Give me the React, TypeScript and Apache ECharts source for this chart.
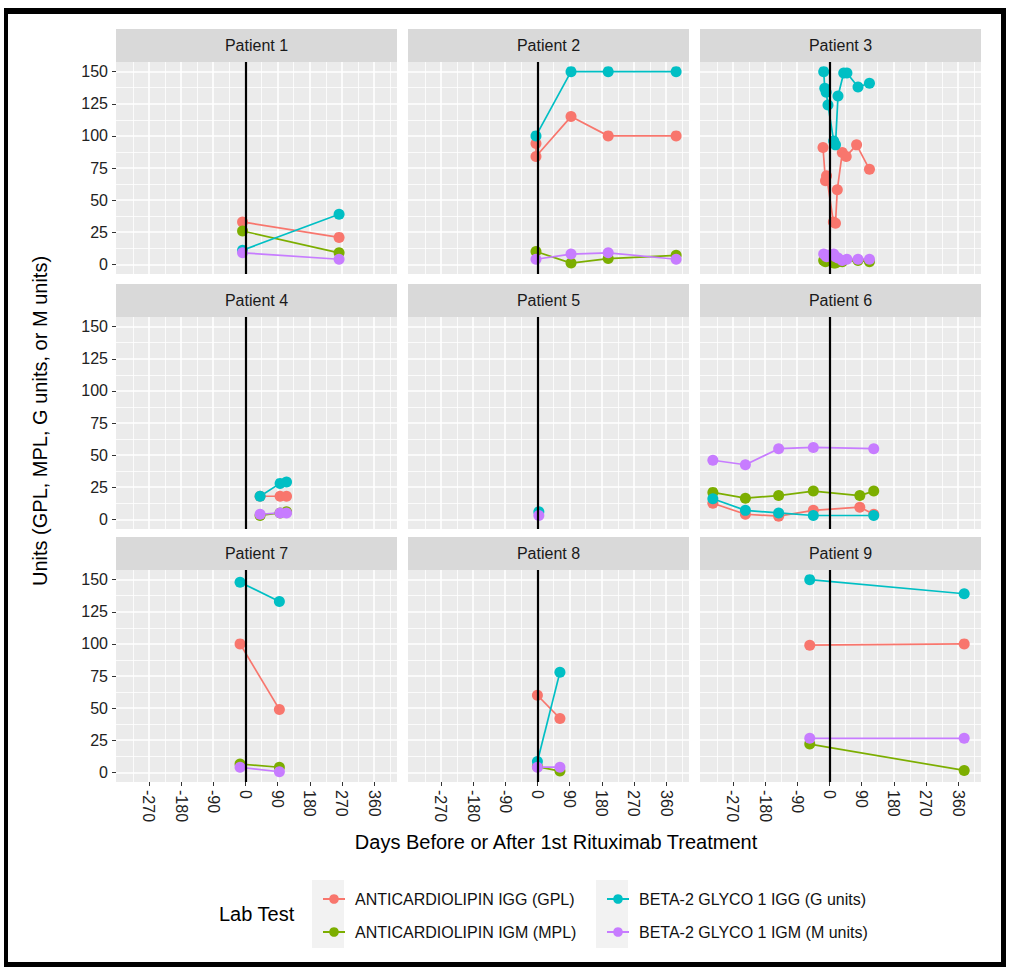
import React, { useEffect, useRef } from 'react';
import * as echarts from 'echarts';

const TESTS = [
  'ANTICARDIOLIPIN IGG (GPL)',
  'ANTICARDIOLIPIN IGM (MPL)',
  'BETA-2 GLYCO 1 IGG (G units)',
  'BETA-2 GLYCO 1 IGM (M units)',
];
const COLORS = ['#F8766D', '#7CAE00', '#00BFC4', '#C77CFF'];
const PATIENTS = ['Patient 1', 'Patient 2', 'Patient 3', 'Patient 4', 'Patient 5', 'Patient 6', 'Patient 7', 'Patient 8', 'Patient 9'];
const X_TICKS = [-270, -180, -90, 0, 90, 180, 270, 360];
const X_MINOR = [-315, -225, -135, -45, 45, 135, 225, 315, 405];
const Y_TICKS = [0, 25, 50, 75, 100, 125, 150];
const Y_MINOR = [12.5, 37.5, 62.5, 87.5, 112.5, 137.5];
const X_MIN = -362;
const X_MAX = 424;
const Y_MIN = -7.5;
const Y_MAX = 157.5;

// [day, value] per patient and lab test
const P1_ACL_IGG = [[-8, 33], [262, 21]];
const P1_ACL_IGM = [[-8, 26], [262, 9]];
const P1_B2_IGG = [[-8, 11], [262, 39]];
const P1_B2_IGM = [[-8, 9], [262, 4]];

const P2_ACL_IGG = [[-4, 94], [-4, 84], [94, 115], [198, 100], [388, 100]];
const P2_ACL_IGM = [[-4, 10], [94, 1], [198, 4.5], [388, 7]];
const P2_B2_IGG = [[-4, 100], [94, 150], [198, 150], [388, 150]];
const P2_B2_IGM = [[-4, 4], [94, 8], [198, 9], [388, 4]];

const P3_ACL_IGG = [[-18, 91], [-11, 65], [-8, 69], [11, 33], [17, 32], [22, 58], [36, 87], [47, 84], [76, 93], [112, 74]];
const P3_ACL_IGM = [[-16, 3], [-11, 2], [-4, 4], [12, 1], [17, 1], [24, 2], [36, 2], [80, 3], [112, 2]];
const P3_B2_IGG = [[-16, 150], [-13, 137], [-9, 134], [-4, 124], [12, 96], [17, 93], [24, 131], [40, 149], [49, 149], [80, 138], [112, 141]];
const P3_B2_IGM = [[-16, 8], [-11, 7], [-8, 6], [-4, 7], [12, 8], [17, 6], [24, 5], [36, 3], [49, 4], [80, 4], [112, 4]];

const P4_ACL_IGG = [[41, 18], [97, 18], [115, 18]];
const P4_ACL_IGM = [[41, 3], [97, 5], [115, 6]];
const P4_B2_IGG = [[41, 18], [97, 28], [115, 29]];
const P4_B2_IGM = [[41, 4], [97, 5], [115, 5]];

const P5_ACL_IGG: number[][] = [];
const P5_ACL_IGM: number[][] = [];
const P5_B2_IGG = [[4, 6]];
const P5_B2_IGM = [[4, 3]];

const P6_ACL_IGG = [[-326, 12.5], [-235, 4], [-142, 2.5], [-45, 7], [85, 9.5], [124, 4]];
const P6_ACL_IGM = [[-326, 21], [-235, 16.5], [-142, 18.5], [-45, 22], [85, 18.5], [124, 22]];
const P6_B2_IGG = [[-326, 16], [-235, 7], [-142, 5], [-45, 3], [124, 3]];
const P6_B2_IGM = [[-326, 46], [-235, 42.5], [-142, 55], [-45, 56], [124, 55]];

const P7_ACL_IGG = [[-15, 100], [95, 49]];
const P7_ACL_IGM = [[-15, 6.5], [95, 4]];
const P7_B2_IGG = [[-15, 148], [95, 133]];
const P7_B2_IGM = [[-15, 4], [95, 0.5]];

const P8_ACL_IGG = [[0, 60], [63, 42]];
const P8_ACL_IGM = [[0, 4.5], [63, 1]];
const P8_B2_IGG = [[0, 8.5], [63, 78]];
const P8_B2_IGM = [[0, 4], [63, 4]];

const P9_ACL_IGG = [[-55, 99], [377, 100]];
const P9_ACL_IGM = [[-55, 22], [377, 1.5]];
const P9_B2_IGG = [[-55, 150], [377, 139]];
const P9_B2_IGM = [[-55, 26.5], [377, 26.5]];

const ALL_DATA = [
  [P1_ACL_IGG, P1_ACL_IGM, P1_B2_IGG, P1_B2_IGM],
  [P2_ACL_IGG, P2_ACL_IGM, P2_B2_IGG, P2_B2_IGM],
  [P3_ACL_IGG, P3_ACL_IGM, P3_B2_IGG, P3_B2_IGM],
  [P4_ACL_IGG, P4_ACL_IGM, P4_B2_IGG, P4_B2_IGM],
  [P5_ACL_IGG, P5_ACL_IGM, P5_B2_IGG, P5_B2_IGM],
  [P6_ACL_IGG, P6_ACL_IGM, P6_B2_IGG, P6_B2_IGM],
  [P7_ACL_IGG, P7_ACL_IGM, P7_B2_IGG, P7_B2_IGM],
  [P8_ACL_IGG, P8_ACL_IGM, P8_B2_IGG, P8_B2_IGM],
  [P9_ACL_IGG, P9_ACL_IGM, P9_B2_IGG, P9_B2_IGM],
];

const FONT = '"Liberation Sans", Arial, Helvetica, sans-serif';
const COL_LEFT = [116, 408, 700];
const ROW_TOP = [62, 317, 570];
const PW = 281;
const PH = 212;
const STRIP = 33;
const SMALL = 16;
const TITLE = 20;

function buildOption() {
  const grid: any[] = [];
  const xAxis: any[] = [];
  const yAxis: any[] = [];
  const lineSeries: any[] = [];
  const pointSeries: any[] = [];
  const vSeries: any[] = [];
  const graphic: any[] = [];

  PATIENTS.forEach((name, i) => {
    const r = Math.floor(i / 3);
    const c = i % 3;
    grid.push({
      left: COL_LEFT[c], top: ROW_TOP[r], width: PW, height: PH,
      show: true, backgroundColor: '#EBEBEB', borderWidth: 0, borderColor: 'transparent',
    });
    const bottomRow = r === 2;
    const leftCol = c === 0;
    xAxis.push({
      gridIndex: i, type: 'value', min: X_MIN, max: X_MAX, position: 'bottom',
      axisLine: { show: false, onZero: false },
      axisTick: { show: bottomRow, customValues: X_TICKS, length: 4, lineStyle: { color: '#333', width: 1 } },
      axisLabel: {
        show: bottomRow, customValues: X_TICKS, rotate: -90, fontSize: SMALL, color: '#222',
        fontFamily: FONT, margin: 8, hideOverlap: false,
      },
      splitLine: { show: true, lineStyle: { color: '#FFFFFF', width: 1.6 } },
    });
    xAxis.push({
      gridIndex: i, type: 'value', min: X_MIN, max: X_MAX, position: 'top',
      axisLine: { show: false, onZero: false },
      axisTick: { show: false, customValues: X_MINOR },
      axisLabel: { show: false, customValues: X_MINOR },
      splitLine: { show: true, lineStyle: { color: '#FFFFFF', width: 0.8 } },
    });
    yAxis.push({
      gridIndex: i, type: 'value', min: Y_MIN, max: Y_MAX, position: 'left',
      axisLine: { show: false, onZero: false },
      axisTick: { show: leftCol, customValues: Y_TICKS, length: 4, lineStyle: { color: '#333', width: 1 } },
      axisLabel: { show: leftCol, customValues: Y_TICKS, fontSize: SMALL, color: '#222', fontFamily: FONT, margin: 8 },
      splitLine: { show: true, lineStyle: { color: '#FFFFFF', width: 1.6 } },
    });
    yAxis.push({
      gridIndex: i, type: 'value', min: Y_MIN, max: Y_MAX, position: 'right',
      axisLine: { show: false, onZero: false },
      axisTick: { show: false, customValues: Y_MINOR },
      axisLabel: { show: false, customValues: Y_MINOR },
      splitLine: { show: true, lineStyle: { color: '#FFFFFF', width: 0.8 } },
    });

    ALL_DATA[i].forEach((arr, j) => {
      const sorted = arr.map((d, k) => ({ d, k })).sort((a, b) => a.d[0] - b.d[0] || a.k - b.k).map((o) => o.d);
      lineSeries.push({
        type: 'line', name: TESTS[j], xAxisIndex: 2 * i, yAxisIndex: 2 * i, data: sorted,
        showSymbol: false, symbol: 'circle', symbolSize: 11, silent: true,
        lineStyle: { color: COLORS[j], width: 1.7 }, itemStyle: { color: COLORS[j] }, z: 2,
      });
      pointSeries.push({
        type: 'scatter', name: TESTS[j], xAxisIndex: 2 * i, yAxisIndex: 2 * i, data: sorted,
        symbol: 'circle', symbolSize: 11, silent: true,
        itemStyle: { color: COLORS[j], opacity: 1 }, z: 3,
      });
    });
    vSeries.push({
      type: 'line', name: 'day0-' + i, xAxisIndex: 2 * i, yAxisIndex: 2 * i, data: [], z: 5,
      markLine: {
        silent: true, symbol: ['none', 'none'], label: { show: false }, animation: false,
        lineStyle: { color: '#000000', width: 2.2, type: 'solid' },
        data: [{ xAxis: 0 }],
      },
    });

    graphic.push({
      type: 'rect', silent: true,
      shape: { x: COL_LEFT[c], y: ROW_TOP[r] - STRIP, width: PW, height: STRIP },
      style: { fill: '#D9D9D9' },
    });
    graphic.push({
      type: 'text', silent: true, x: COL_LEFT[c] + PW / 2, y: ROW_TOP[r] - STRIP / 2,
      style: { text: name, align: 'center', verticalAlign: 'middle', fontSize: SMALL, fill: '#1A1A1A', fontFamily: FONT },
    });
  });

  // titles
  graphic.push({
    type: 'text', silent: true, x: 40, y: 421, rotation: Math.PI / 2,
    style: { text: 'Units (GPL, MPL, G units, or M units)', align: 'center', verticalAlign: 'middle', fontSize: TITLE, fill: '#000', fontFamily: FONT },
  });
  graphic.push({
    type: 'text', silent: true, x: 556, y: 842,
    style: { text: 'Days Before or After 1st Rituximab Treatment', align: 'center', verticalAlign: 'middle', fontSize: TITLE, fill: '#000', fontFamily: FONT },
  });
  graphic.push({
    type: 'text', silent: true, x: 219, y: 914,
    style: { text: 'Lab Test', align: 'left', verticalAlign: 'middle', fontSize: TITLE, fill: '#000', fontFamily: FONT },
  });
  // legend key backgrounds
  graphic.push({ type: 'rect', silent: true, z: -1, shape: { x: 312, y: 880, width: 32, height: 68 }, style: { fill: '#F2F2F2' } });
  graphic.push({ type: 'rect', silent: true, z: -1, shape: { x: 596, y: 880, width: 32, height: 68 }, style: { fill: '#F2F2F2' } });
  // frame
  graphic.push({ type: 'rect', silent: true, shape: { x: 4, y: 8, width: 1002, height: 6 }, style: { fill: '#000' } });
  graphic.push({ type: 'rect', silent: true, shape: { x: 4, y: 8, width: 4, height: 959 }, style: { fill: '#000' } });
  graphic.push({ type: 'rect', silent: true, shape: { x: 1001, y: 8, width: 5, height: 959 }, style: { fill: '#000' } });
  graphic.push({ type: 'rect', silent: true, shape: { x: 4, y: 962, width: 1002, height: 5 }, style: { fill: '#000' } });

  const legendCommon = {
    orient: 'vertical', itemWidth: 22, itemHeight: 12, itemGap: 17, selectedMode: false,
    textStyle: { fontSize: SMALL, color: '#111', fontFamily: FONT, padding: [0, 0, 0, 5] },
  };
  const legend = [
    { ...legendCommon, data: [TESTS[0], TESTS[1]], left: 317, top: 886 },
    { ...legendCommon, data: [TESTS[2], TESTS[3]], left: 601, top: 886 },
  ];

  return {
    animation: false,
    backgroundColor: '#FFFFFF',
    grid, xAxis, yAxis, legend, graphic,
    series: [...lineSeries, ...pointSeries, ...vSeries],
  };
}

export default function App() {
  const ref = useRef<HTMLDivElement>(null);
  useEffect(() => {
    if (!ref.current) return;
    const chart = echarts.init(ref.current, null, { renderer: 'svg' });
    chart.setOption(buildOption() as any);
    return () => chart.dispose();
  }, []);
  return (
    <div
      ref={ref}
      style={{ position: 'absolute', left: 0, top: 0, width: 1009, height: 969, background: '#fff' }}
    />
  );
}
